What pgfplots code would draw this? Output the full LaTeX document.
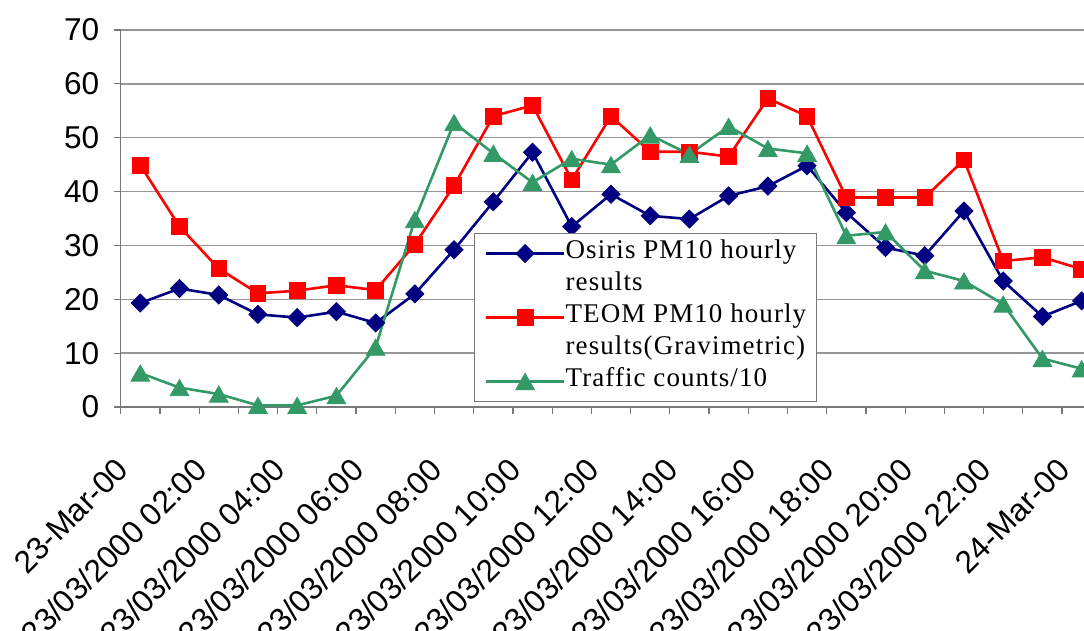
\documentclass[border=0pt]{standalone}
\usepackage{pgfplots}
\pgfplotsset{compat=1.18}
\usepackage{pgfplotstable}
\usepackage{fontspec}
\setmainfont{Liberation Sans}
\newfontfamily\legendfont[LetterSpace=4]{Liberation Serif}

\definecolor{osiris}{RGB}{0,0,128}
\definecolor{teom}{RGB}{255,0,0}
\definecolor{traffic}{RGB}{51,153,102}
\definecolor{gridgray}{RGB}{150,150,150}
\definecolor{axisgray}{RGB}{120,120,120}

% hourly values, 23 March 2000 (x in hours from midnight)
\pgfplotstableread{
hour osiris teom traffic
0.5  19.3 44.9  6.3
1.5  22.0 33.5  3.6
2.5  20.8 25.7  2.4
3.5  17.2 21.1  0.3
4.5  16.6 21.6  0.3
5.5  17.7 22.6  2.1
6.5  15.6 21.7 11.1
7.5  21.0 30.2 34.8
8.5  29.2 41.1 52.8
9.5  38.1 54.0 47.1
10.5 47.3 56.0 41.7
11.5 33.5 42.2 46.1
12.5 39.5 54.0 45.0
13.5 35.5 47.4 50.5
14.5 34.9 47.4 46.9
15.5 39.2 46.5 52.1
16.5 41.0 57.3 48.0
17.5 44.8 54.0 47.1
18.5 36.1 38.9 31.8
19.5 29.6 38.9 32.5
20.5 28.1 38.9 25.3
21.5 36.4 45.9 23.4
22.5 23.4 27.1 19.1
23.5 16.8 27.8  9.0
24.5 19.7 25.6  7.1
}\hourly

\begin{document}
\begin{tikzpicture}
\begin{axis}[
  at={(0,0)}, anchor=south west,
  scale only axis,
  width=481.65pt, height=188.5pt,
  xmin=0, xmax=24.56,
  ymin=0, ymax=70,
  clip=false,
  axis x line*=bottom,
  axis y line*=left,
  axis line style={axisgray, line width=0.8pt},
  tick align=outside,
  major tick length=3.5pt,
  minor tick length=3.5pt,
  tick style={axisgray, line width=0.6pt},
  ytick={0,10,...,70},
  ymajorgrids,
  major grid style={gridgray, line width=0.7pt},
  xtick={0,2,...,24},
  minor xtick={1,3,...,23},
  xticklabels={23-Mar-00,{23/03/2000 02:00},{23/03/2000 04:00},{23/03/2000 06:00},{23/03/2000 08:00},{23/03/2000 10:00},{23/03/2000 12:00},{23/03/2000 14:00},{23/03/2000 16:00},{23/03/2000 18:00},{23/03/2000 20:00},{23/03/2000 22:00},24-Mar-00},
  /pgf/number format/assume math mode=true,
  ticklabel style={font=\fontsize{15.8}{18}\selectfont},
  x tick label style={inner sep=0pt, xshift=1pt, yshift=-25pt, rotate=45, anchor=east},
  y tick label style={inner sep=0pt, xshift=-7pt},
  legend cell align=left,
  legend image code/.code={
    \draw[mark repeat=2, mark phase=2] plot coordinates {(0cm,0cm) (0.69cm,0cm) (1.38cm,0cm)};
  },
  legend style={
    at={(0.3668,0.4615)}, anchor=north west,
    draw=axisgray, line width=0.5pt, fill=white,
    inner xsep=5pt, inner ysep=2pt,
    row sep=0pt,
    font=\legendfont\fontsize{13.5}{16}\selectfont,
    nodes={inner sep=0pt, text height=10.5pt, text depth=5.5pt},
    /tikz/every even column/.append style={column sep=3.5pt},
  },
]
\addplot[osiris, line width=1.3pt, mark=square*, mark size=3.2pt,
  mark options={rotate=45, solid, line width=0.4pt, fill=osiris}]
  table[x=hour, y=osiris] {\hourly};
\addlegendentry{Osiris PM10 hourly}
\addlegendimage{empty legend}
\addlegendentry{results}
\addplot[teom, line width=1.3pt, mark=square*, mark size=3.9pt,
  mark options={solid, line width=0.4pt, fill=teom}]
  table[x=hour, y=teom] {\hourly};
\addlegendentry{TEOM PM10 hourly}
\addlegendimage{empty legend}
\addlegendentry{results(Gravimetric)}
\addplot[traffic, line width=1.3pt, mark=triangle*, mark size=5.4pt,
  mark options={yshift=-1.35pt, solid, line width=0.4pt, fill=traffic}]
  table[x=hour, y=traffic] {\hourly};
\addlegendentry{Traffic counts/10}
\end{axis}
\pgfresetboundingbox
\useasboundingbox (-60.35pt,-112pt) rectangle (481.65pt,203.5pt);
\end{tikzpicture}
\end{document}
